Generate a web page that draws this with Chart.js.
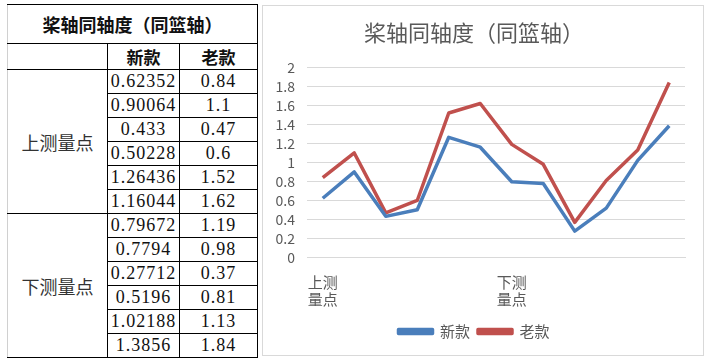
<!DOCTYPE html>
<html>
<head>
<meta charset="utf-8">
<script src="https://cdn.jsdelivr.net/npm/chart.js@4"></script>
<style>
body { margin: 0; background: #fff; width: 709px; height: 360px; overflow: hidden; position: relative; }
#tbl { position: absolute; left: 7px; top: 4px; border-collapse: collapse; table-layout: fixed; }
#tbl td { border: 1px solid #000; padding: 0; text-align: center; height: 23px; font-family: "Liberation Serif", serif; font-size: 18px; letter-spacing: 1px; color: #111; }
#tbl td.grp { border-left-color: #d0d0d0; font-family: "Noto Sans CJK SC", sans-serif; font-size: 18px; letter-spacing: 0; color: #333; }
#tbl td.ttl { border-left-color: #d0d0d0; height: 38px; font-family: "Noto Sans CJK SC", sans-serif; font-weight: bold; font-size: 18px; letter-spacing: 0; }
#tbl td.hd { height: 24px; font-family: "Noto Sans CJK SC", sans-serif; font-weight: bold; font-size: 17px; letter-spacing: 0; }
#box { position: absolute; left: 262px; top: 5px; width: 440px; height: 349px; border: 1px solid #d9d9d9; background: #fff; }
</style>
</head>
<body>
<table id="tbl">
	<colgroup><col style="width:100px"><col style="width:72px"><col style="width:78px"></colgroup>
	<tbody id="tb"></tbody>
</table>
<div id="box"><canvas id="myChart" width="440" height="349"></canvas></div>
<script>
const title = '桨轴同轴度（同篮轴）';
const groups = ['上测量点', '下测量点'];
const seriesNames = ['新款', '老款'];
const newValues = [0.62352, 0.90064, 0.433, 0.50228, 1.26436, 1.16044, 0.79672, 0.7794, 0.27712, 0.5196, 1.02188, 1.3856];
const oldValues = [0.84, 1.1, 0.47, 0.6, 1.52, 1.62, 1.19, 0.98, 0.37, 0.81, 1.13, 1.84];
const categories = ['上测量点', '', '', '', '', '', '下测量点', '', '', '', '', ''];

// left side table
var tb = document.getElementById('tb');
var html = '<tr><td class="ttl" colspan="3">' + title + '</td></tr>';
html += '<tr><td class="hd" style="border-left-color:#d0d0d0"></td><td class="hd">' + seriesNames[0] + '</td><td class="hd">' + seriesNames[1] + '</td></tr>';
for (var i = 0; i < newValues.length; i++) {
	html += '<tr>';
	if (i % 6 == 0) html += '<td class="grp" rowspan="6">' + groups[i / 6] + '</td>';
	html += '<td>' + newValues[i] + '</td><td>' + oldValues[i] + '</td></tr>';
}
tb.innerHTML = html;

var ctx = document.getElementById('myChart').getContext('2d');
var font = '"Noto Sans CJK SC", sans-serif';
var myChart = new Chart(ctx, {
	type: 'line',
	data: {
		labels: categories,
		datasets: [{
			label: seriesNames[0],
			data: newValues,
			borderColor: '#4a7ebb',
			backgroundColor: '#4a7ebb',
			borderWidth: 3.5,
			pointRadius: 0,
			borderJoinStyle: 'round'
		}, {
			label: seriesNames[1],
			data: oldValues,
			borderColor: '#c0504d',
			backgroundColor: '#c0504d',
			borderWidth: 3.5,
			pointRadius: 0,
			borderJoinStyle: 'round'
		}]
	},
	options: {
		responsive: false,
		animation: false,
		layout: { padding: { left: 0, right: 18, top: 0, bottom: 6 } },
		plugins: {
			title: {
				display: true,
				text: title,
				color: '#595959',
				font: { family: font, size: 22, weight: 'normal' },
				padding: { top: 13, bottom: 22 }
			},
			legend: {
				position: 'bottom',
				labels: {
					color: '#595959',
					font: { family: font, size: 15 },
					boxWidth: 34,
					boxHeight: 4,
					padding: 8
				}
			},
			tooltip: { enabled: false }
		},
		scales: {
			x: {
				offset: true,
				grid: { display: false },
				border: { color: '#d9d9d9' },
				ticks: {
					color: '#595959',
					font: { family: font, size: 15, lineHeight: 1.15 },
					autoSkip: false,
					maxRotation: 0,
					padding: 8,
					callback: function (v, i) {
						var s = categories[i];
						return s ? [s.slice(0, 2), s.slice(2)] : '';
					}
				}
			},
			y: {
				min: 0,
				max: 2,
				grid: { color: '#d9d9d9', drawTicks: false },
				border: { display: false },
				ticks: {
					stepSize: 0.2,
					autoSkip: false,
					color: '#595959',
					font: { family: font, size: 14 },
					padding: 12,
					callback: function (v) { return String(+v.toFixed(1)); }
				},
				afterFit: function (scale) { scale.width = 44; }
			}
		}
	}
});
</script>
</body>
</html>
